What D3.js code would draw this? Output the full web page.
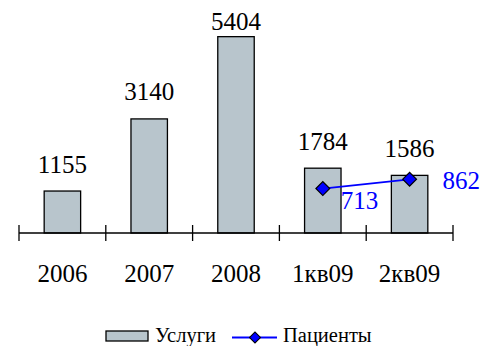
<!DOCTYPE html>
<html>
<head>
<meta charset="utf-8">
<script src="https://cdn.jsdelivr.net/npm/d3@7"></script>
<style>
  html, body { margin: 0; padding: 0; background: #fff; }
  svg { display: block; }
</style>
</head>
<body>
<svg id="chart" width="482" height="346"></svg>
<script>
// Data
const categories = ["2006", "2007", "2008", "1кв09", "2кв09"];
const services = [1155, 3140, 5404, 1784, 1586];          // Услуги (bars)
const patientCategories = ["1кв09", "2кв09"];
const patients = [713, 862];                               // Пациенты (line)
const seriesNames = ["Услуги", "Пациенты"];

const FONT = "Liberation Serif";

const svg = d3.select("#chart").style("font-family", `"${FONT}"`);
const plot = { left: 19, right: 453, top: 15, bottom: 233 };

const x = d3.scaleBand().domain(categories).range([plot.left, plot.right]).paddingInner(0.58).paddingOuter(0.29);
const xCenter = c => x(c) + x.bandwidth() / 2;
const y = d3.scaleLinear().domain([0, 6000]).range([plot.bottom, plot.top]);
const y2 = d3.scaleLinear().domain([0, 3500]).range([plot.bottom, plot.top]);

const barFill = "#b8c5cc";
const lineColor = "#0000ff";

function label(sel) {
  return sel.style("font-family", `"${FONT}"`).attr("font-family", FONT);
}

// Bars
svg.append("g").selectAll("rect").data(services).join("rect")
  .attr("x", (d, i) => x(categories[i]))
  .attr("y", d => y(d))
  .attr("width", x.bandwidth())
  .attr("height", d => y(0) - y(d))
  .attr("fill", barFill)
  .attr("stroke", "#000")
  .attr("stroke-width", 1.3);

// Bar value labels (the tallest one is pulled inside the plot top)
svg.append("g").selectAll("text").data(services).join("text")
  .call(label)
  .attr("x", (d, i) => xCenter(categories[i]))
  .attr("y", d => Math.max(y(d) - 18.5, 30))
  .attr("text-anchor", "middle")
  .attr("font-size", 25)
  .attr("fill", "#000")
  .text(d => d);

// Category axis with ticks between categories
const axisG = svg.append("g").attr("transform", `translate(0,${plot.bottom})`);
axisG.append("line").attr("x1", plot.left).attr("x2", plot.right).attr("stroke", "#000").attr("stroke-width", 1.3);
const tickXs = d3.range(categories.length + 1).map(i => plot.left + i * (plot.right - plot.left) / categories.length);
axisG.selectAll(".tick").data(tickXs).join("line")
  .attr("x1", d => d).attr("x2", d => d)
  .attr("y1", -8).attr("y2", 8)
  .attr("stroke", "#000").attr("stroke-width", 1.3);
axisG.selectAll(".lbl").data(categories).join("text")
  .call(label)
  .attr("x", d => xCenter(d))
  .attr("y", 48.5)
  .attr("text-anchor", "middle")
  .attr("font-size", 25)
  .text(d => d);

// Patients line on secondary scale
const linePts = patients.map((v, i) => [xCenter(patientCategories[i]), y2(v)]);
svg.append("path")
  .attr("d", d3.line()(linePts))
  .attr("fill", "none")
  .attr("stroke", lineColor)
  .attr("stroke-width", 1.8);

svg.append("g").selectAll("path").data(linePts).join("path")
  .attr("transform", d => `translate(${d[0]},${d[1]}) rotate(45)`)
  .attr("d", d3.symbol().type(d3.symbolSquare).size(95))
  .attr("fill", lineColor)
  .attr("stroke", "#000")
  .attr("stroke-width", 1.2);

// Patient value labels, right of each marker
const lblDx = [18, 33];
const lblDy = [20, 10];
svg.append("g").selectAll("text").data(patients).join("text")
  .call(label)
  .attr("x", (d, i) => linePts[i][0] + lblDx[i])
  .attr("y", (d, i) => linePts[i][1] + lblDy[i])
  .attr("font-size", 25)
  .attr("fill", lineColor)
  .text(d => d);

// Legend
const lg = svg.append("g");
lg.append("rect").attr("x", 106).attr("y", 331).attr("width", 42).attr("height", 10)
  .attr("fill", barFill).attr("stroke", "#000").attr("stroke-width", 1.3);
lg.append("text").call(label).attr("x", 155).attr("y", 341.5).attr("font-size", 20.5).text(seriesNames[0]);
lg.append("line").attr("x1", 232).attr("x2", 277).attr("y1", 337.5).attr("y2", 337.5)
  .attr("stroke", lineColor).attr("stroke-width", 1.8);
lg.append("path").attr("transform", "translate(255,337.5) rotate(45)")
  .attr("d", d3.symbol().type(d3.symbolSquare).size(60))
  .attr("fill", lineColor).attr("stroke", "#000").attr("stroke-width", 1.1);
lg.append("text").call(label).attr("x", 283).attr("y", 341.5).attr("font-size", 20.5).text(seriesNames[1]);
</script>
</body>
</html>
